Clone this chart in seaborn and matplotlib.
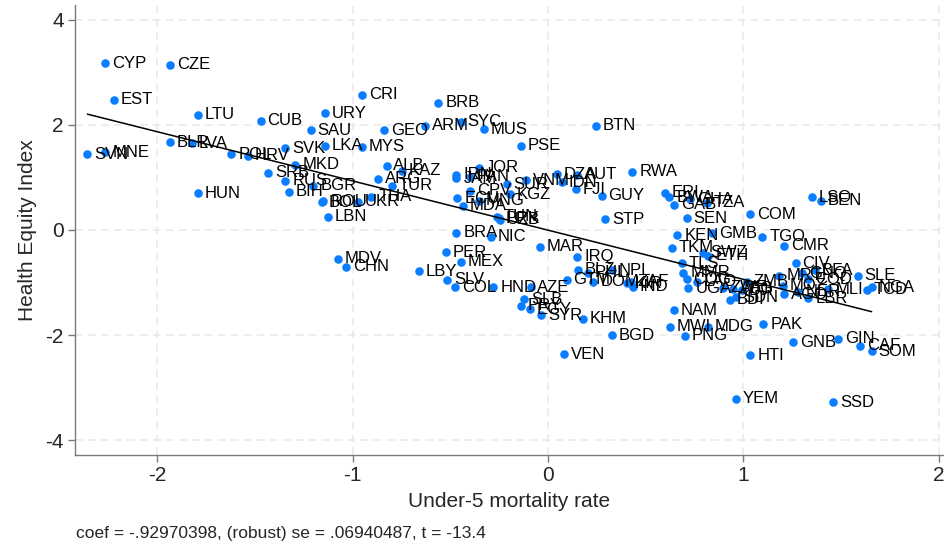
import matplotlib
matplotlib.use("Agg")
import matplotlib.pyplot as plt
import pandas as pd
import seaborn as sns

# country codes, under-5 mortality (std) and health equity index
codes = [
    "CYP", "CZE", "EST", "LTU", "CUB", "URY", "SAU", "SVK", "LKA", "MYS",
    "SVN", "MNE", "BLR", "LVA", "POL", "HRV", "MKD", "SRB", "RUS", "BIH",
    "BGR", "HUN", "BOL", "ROU", "UKR", "THA", "LBN", "CRI", "BRB", "GEO",
    "ARM", "SYC", "MUS", "BTN", "PSE", "ALB", "KAZ", "ARG", "TUR", "JOR",
    "IRN", "JAM", "PAN", "CPV", "SUR", "KGZ", "VNM", "ECU", "MNG", "MDA",
    "TUN", "PRK", "UZB", "BRA", "NIC", "MAR", "STP", "GUY", "RWA", "DZA",
    "IDN", "AUT", "FJI", "ERI", "BWA", "GAB", "GHA", "TZA", "SEN", "COM",
    "LSO", "BEN", "KEN", "GMB", "TGO", "CMR", "TKM", "SWZ", "ETH", "TLS",
    "CIV", "MMR", "COG", "LAO", "UGA", "ZWE", "AFG", "DJI", "BDI", "SDN",
    "ZMB", "MRT", "GNQ", "BFA", "SLE", "COD", "MOZ", "AGO", "NER", "LBR",
    "MLI", "TCD", "NGA", "NAM", "MWI", "MDG", "PNG", "PAK", "GNB", "GIN",
    "CAF", "SOM", "HTI", "YEM", "SSD", "BGD", "KHM", "VEN", "MDV", "CHN",
    "PER", "MEX", "LBY", "SLV", "COL", "HND", "AZE", "SLB", "PRY", "EGY",
    "SYR", "IRQ", "BLZ", "PHL", "NPL", "GTM", "DOM", "ZAF", "KIR", "IND",
]
u5mr = [
    -2.265, -1.934, -2.222, -1.790, -1.470, -1.142, -1.214, -1.343, -1.142, -0.951,
    -2.357, -2.265, -1.934, -1.821, -1.620, -1.535, -1.292, -1.432, -1.343, -1.325,
    -1.200, -1.790, -1.156, -1.150, -0.974, -0.903, -1.125, -0.949, -0.560, -0.840,
    -0.631, -0.447, -0.328, 0.246, -0.137, -0.826, -0.748, -0.869, -0.799, -0.352,
    -0.468, -0.468, -0.400, -0.400, -0.211, -0.195, -0.113, -0.464, -0.355, -0.434,
    -0.263, -0.250, -0.246, -0.469, -0.293, -0.040, 0.292, 0.275, 0.432, 0.045,
    0.070, 0.147, 0.143, 0.600, 0.621, 0.645, 0.727, 0.813, 0.710, 1.034,
    1.352, 1.396, 0.662, 0.840, 1.097, 1.208, 0.633, 0.795, 0.821, 0.685,
    1.268, 0.693, 0.710, 0.761, 0.719, 0.898, 0.949, 0.992, 0.932, 0.963,
    1.017, 1.185, 1.299, 1.367, 1.586, 1.333, 1.202, 1.210, 1.282, 1.333,
    1.435, 1.631, 1.657, 0.645, 0.625, 0.818, 0.701, 1.102, 1.256, 1.486,
    1.596, 1.657, 1.036, 0.963, 1.461, 0.326, 0.178, 0.083, -1.074, -1.031,
    -0.522, -0.447, -0.659, -0.516, -0.476, -0.280, -0.089, -0.121, -0.138, -0.092,
    -0.034, 0.150, 0.155, 0.205, 0.326, 0.096, 0.232, 0.423, 0.406, 0.434,
]
hei = [
    3.17, 3.14, 2.48, 2.19, 2.08, 2.22, 1.90, 1.55, 1.60, 1.58,
    1.44, 1.48, 1.67, 1.65, 1.44, 1.41, 1.24, 1.09, 0.94, 0.73,
    0.84, 0.70, 0.53, 0.55, 0.54, 0.63, 0.25, 2.57, 2.42, 1.90,
    1.98, 2.06, 1.92, 1.98, 1.60, 1.22, 1.13, 0.97, 0.84, 1.18,
    1.05, 0.98, 1.01, 0.75, 0.87, 0.68, 0.95, 0.60, 0.56, 0.46,
    0.25, 0.22, 0.19, -0.05, -0.13, -0.32, 0.20, 0.65, 1.11, 1.06,
    0.91, 1.05, 0.77, 0.71, 0.62, 0.48, 0.58, 0.52, 0.22, 0.30,
    0.62, 0.56, -0.10, -0.06, -0.13, -0.30, -0.34, -0.43, -0.49, -0.63,
    -0.63, -0.81, -0.94, -0.98, -1.11, -1.10, -1.12, -1.15, -1.33, -1.28,
    -0.98, -0.87, -0.82, -0.77, -0.87, -0.94, -1.06, -1.22, -1.17, -1.30,
    -1.13, -1.14, -1.09, -1.53, -1.84, -1.84, -2.01, -1.79, -2.13, -2.07,
    -2.20, -2.31, -2.38, -3.21, -3.28, -2.00, -1.69, -2.36, -0.55, -0.70,
    -0.42, -0.60, -0.78, -0.95, -1.09, -1.09, -1.09, -1.32, -1.44, -1.51,
    -1.62, -0.51, -0.76, -0.81, -0.77, -0.95, -0.98, -0.98, -1.01, -1.08,
]
note = "coef = -.92970398, (robust) se = .06940487, t = -13.4"

df = pd.DataFrame({"code": codes, "u5mr": u5mr, "hei": hei})

sns.set_theme(style="white")
plt.rcParams["font.family"] = ["Liberation Sans", "DejaVu Sans"]
plt.rcParams["axes.unicode_minus"] = False

fig = plt.figure(figsize=(9.44, 5.45), dpi=100)
ax = fig.add_axes([0.0795, 0.165, 0.919, 0.826])

dot = "#0a7eff"
sns.scatterplot(data=df, x="u5mr", y="hei", color=dot, s=38, linewidth=0, ax=ax, zorder=3)
sns.regplot(data=df, x="u5mr", y="hei", scatter=False, ci=None, ax=ax,
            line_kws={"color": "black", "lw": 1.1, "zorder": 4})

for c, x, y in zip(df["code"], df["u5mr"], df["hei"]):
    ax.annotate(c, (x, y), xytext=(5, 0), textcoords="offset points",
                va="center", ha="left", fontsize=12, color="black", zorder=5)

ax.set_xlim(-2.42, 2.02)
ax.set_ylim(-4.28, 4.28)
ax.set_xticks([-2, -1, 0, 1, 2])
ax.set_yticks([-4, -2, 0, 2, 4])
ax.grid(True, color="#e8e8e8", lw=1.1, ls=(0, (5, 3.5)))
ax.set_axisbelow(True)

for side in ["top", "right"]:
    ax.spines[side].set_visible(False)
for side in ["left", "bottom"]:
    ax.spines[side].set_color("#7a7a7a")
    ax.spines[side].set_linewidth(1.0)
ax.tick_params(axis="both", direction="out", length=5, width=1, color="#7a7a7a",
               labelsize=15, pad=3, left=True, bottom=True)

ax.set_xlabel("Under-5 mortality rate", fontsize=15, labelpad=5)
ax.set_ylabel("Health Equity Index", fontsize=15, labelpad=6)

fig.text(0.0805, 0.008, note, fontsize=12.5, ha="left", va="bottom",
         family=["Liberation Sans Narrow", "Liberation Sans"])

fig.savefig("out.png", dpi=100)
